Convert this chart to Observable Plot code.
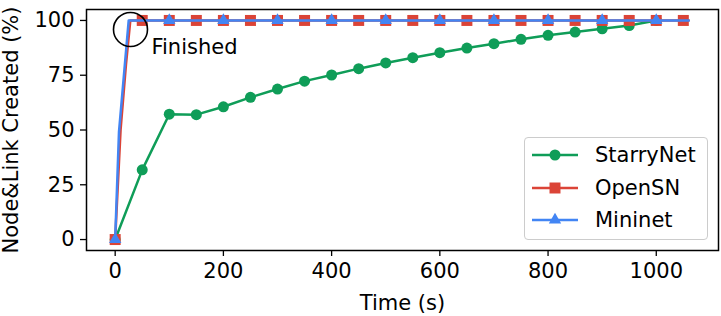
<!DOCTYPE html>
<html><head><meta charset="utf-8">
<script src="https://cdn.jsdelivr.net/npm/d3@7"></script>
<script src="https://cdn.jsdelivr.net/npm/@observablehq/plot@0.6"></script>
<style>
body{margin:0;background:#fff;font-family:"DejaVu Sans",sans-serif;}
#wrap{position:relative;width:721px;height:316px;overflow:hidden;}
.legend{position:absolute;left:524px;top:137px;width:182px;height:101px;border:1px solid #ccc;border-radius:4px;background:rgba(255,255,255,0.85);box-sizing:content-box;}
.row{position:absolute;left:0;height:24px;display:flex;align-items:center;font-size:21px;color:#000;white-space:nowrap;}
.row svg{margin-left:6px;margin-right:16px;}
</style></head><body><div id="wrap"></div>
<script>
// ---- data ----
const starryTime  = [0, 50, 100, 150, 200, 250, 300, 350, 400, 450, 500, 550, 600, 650, 700, 750, 800, 850, 900, 950, 1000];
const starryValue = [0, 31.8, 57.2, 57.0, 60.6, 64.9, 68.7, 72.3, 75.1, 78.0, 80.6, 83.0, 85.3, 87.4, 89.4, 91.4, 93.2, 94.7, 96.2, 97.7, 100];

const openLineTime  = [0, 10, 20, 28, 1060];
const openLineValue = [0, 50, 80, 100, 100];
const openMarkTime  = [0, 50, 100, 150, 200, 250, 300, 350, 400, 450, 500, 550, 600, 650, 700, 750, 800, 850, 900, 950, 1000, 1050];
const openMarkValue = [0, 100, 100, 100, 100, 100, 100, 100, 100, 100, 100, 100, 100, 100, 100, 100, 100, 100, 100, 100, 100, 100];

const miniLineTime  = [0, 7, 25, 1060];
const miniLineValue = [0, 49, 100, 100];
const miniMarkTime  = [0, 100, 200, 300, 400, 500, 600, 700, 800, 900, 1000];
const miniMarkValue = [0, 100, 100, 100, 100, 100, 100, 100, 100, 100, 100];

const xTicks = [0, 200, 400, 600, 800, 1000];
const yTicks = [0, 25, 50, 75, 100];

const seriesNames  = ["StarryNet", "OpenSN", "Mininet"];
const seriesColors = ["#0F9D58", "#DB4437", "#4285F4"];
const seriesSymbols = ["circle", "square", "triangle"];

const finishedMark = [{t: 28.3, v: 95.9}];
const finishedLabel = [{t: 67, v: 87.7, text: "Finished"}];

// ---- tables ----
const zip = (ts, vs) => ts.map((t, i) => ({t, v: vs[i]}));
const starry = zip(starryTime, starryValue);
const openLine = zip(openLineTime, openLineValue);
const openMark = zip(openMarkTime, openMarkValue);
const miniLine = zip(miniLineTime, miniLineValue);
const miniMark = zip(miniMarkTime, miniMarkValue);

const font = "DejaVu Sans";
const fs = 21;
const chart = Plot.plot({
  width: 721, height: 316,
  marginLeft: 86, marginRight: 3, marginTop: 9, marginBottom: 66,
  style: {fontFamily: font, fontSize: fs + "px", color: "black", background: "white", overflow: "visible"},
  x: {domain: [-53, 1115]},
  y: {domain: [-5, 105]},
  marks: [
    Plot.axisX({ticks: xTicks, tickFormat: d => String(d), tickSize: 6, tickPadding: 7, fontSize: fs, label: null, strokeWidth: 1.3}),
    Plot.axisY({ticks: yTicks, tickFormat: d => String(d), tickSize: 6, tickPadding: 6, fontSize: fs, label: null, strokeWidth: 1.3}),
    Plot.text(["Time (s)"], {frameAnchor: "bottom", dy: 45, lineAnchor: "top", fontSize: fs}),
    Plot.text(["Node&Link Created (%)"], {frameAnchor: "left", dx: -75, rotate: -90, textAnchor: "middle", lineAnchor: "middle", fontSize: fs}),
    Plot.line(starry, {x: "t", y: "v", stroke: seriesColors[0], strokeWidth: 2.5}),
    Plot.dot(starry, {x: "t", y: "v", r: 5.5, fill: seriesColors[0], symbol: seriesSymbols[0]}),
    Plot.line(openLine, {x: "t", y: "v", stroke: seriesColors[1], strokeWidth: 2.5}),
    Plot.dot(openMark, {x: "t", y: "v", r: 6.2, fill: seriesColors[1], symbol: seriesSymbols[1]}),
    Plot.line(miniLine, {x: "t", y: "v", stroke: seriesColors[2], strokeWidth: 2.5}),
    Plot.dot(miniMark, {x: "t", y: "v", r: 4.6, fill: seriesColors[2], symbol: seriesSymbols[2]}),
    Plot.dot(finishedMark, {x: "t", y: "v", r: 17, stroke: "black", strokeWidth: 1.6, fill: "none"}),
    Plot.text(finishedLabel, {x: "t", y: "v", text: "text", textAnchor: "start", fontSize: fs}),
    Plot.frame({stroke: "black", strokeWidth: 1.5})
  ]
});
const wrap = document.getElementById("wrap");
wrap.appendChild(chart);

// ---- legend ----
const legend = d3.select(wrap).append("div").attr("class", "legend");
const rowCenters = [17, 50, 82];
seriesNames.forEach((name, i) => {
  const row = legend.append("div").attr("class", "row").style("top", (rowCenters[i] - 12) + "px");
  const s = row.append("svg").attr("width", 48).attr("height", 20);
  s.append("line").attr("x1", 1).attr("x2", 47).attr("y1", 10).attr("y2", 10)
    .attr("stroke", seriesColors[i]).attr("stroke-width", 2.5);
  const sizes = [5.5, 6.2, 4.6];
  const sym = {circle: d3.symbolCircle, square: d3.symbolSquare, triangle: d3.symbolTriangle}[seriesSymbols[i]];
  s.append("path").attr("transform", "translate(24,10)")
    .attr("d", d3.symbol(sym, Math.PI * sizes[i] * sizes[i])())
    .attr("fill", seriesColors[i]);
  row.append("span").text(name);
});
</script>
</body></html>
